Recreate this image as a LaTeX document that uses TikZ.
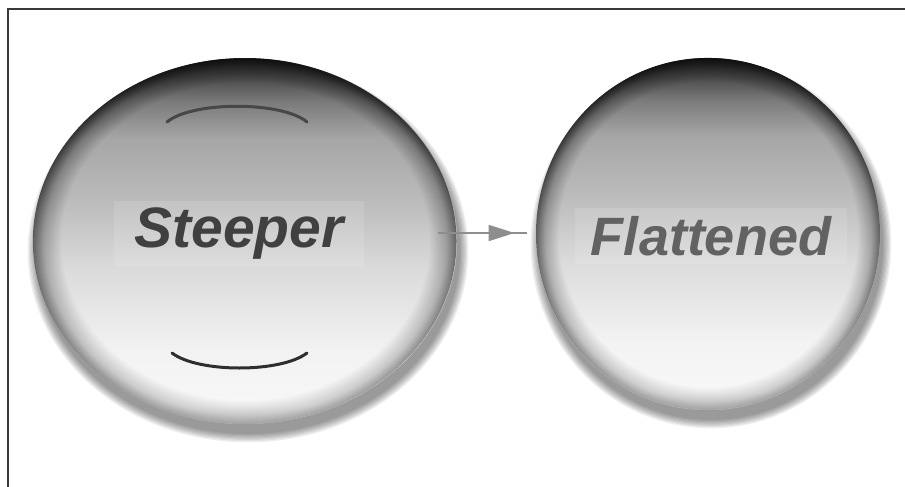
\documentclass[tikz,border=0pt]{standalone}
\usepackage{fontspec}
\setmainfont{Liberation Sans}
\usetikzlibrary{shapes.geometric,arrows.meta,decorations.markings,fadings}

\definecolor{framecol}{HTML}{3A3A3A}
\definecolor{arcdark}{HTML}{2E2E2E}
\definecolor{arrowcol}{HTML}{8E8E8E}
\definecolor{txtA}{HTML}{404040}
\definecolor{txtB}{HTML}{626262}

\pgfdeclareradialshading{rimshading}{\pgfpoint{0bp}{0bp}}{rgb(0bp)=(0,0,0); rgb(21.6bp)=(0,0,0); rgb(23.6bp)=(0.4,0.4,0.4); rgb(24.6bp)=(0.8,0.8,0.8); rgb(25bp)=(0.95,0.95,0.95); rgb(50bp)=(0.95,0.95,0.95)}
\pgfdeclarefading{rimfade}{\pgfuseshading{rimshading}}

\pgfdeclareverticalshading{bubbleshade}{100bp}{rgb(0bp)=(0.86,0.86,0.86); rgb(25bp)=(0.86,0.86,0.86); rgb(27.5bp)=(0.97,0.97,0.97); rgb(35bp)=(0.95,0.95,0.95); rgb(46bp)=(0.86,0.86,0.86); rgb(55bp)=(0.74,0.74,0.74); rgb(64bp)=(0.65,0.65,0.65); rgb(69bp)=(0.48,0.48,0.48); rgb(72.5bp)=(0.28,0.28,0.28); rgb(75bp)=(0.15,0.15,0.15); rgb(100bp)=(0.15,0.15,0.15)}

\tikzset{
  bubble/.style={ellipse, inner sep=0pt},
  frameline/.style={draw=framecol, line width=2pt},
  lens/.style={draw=arcdark, line width=3pt, line cap=round},
  labelA/.style={font=\fontsize{57}{60}\selectfont\bfseries\itshape, text=txtA,
    fill=white, fill opacity=0.12, text opacity=1, inner xsep=20pt, inner ysep=7pt},
  labelB/.style={font=\fontsize{54}{58}\selectfont\bfseries\itshape, text=txtB,
    fill=white, fill opacity=0.12, text opacity=1, inner xsep=16pt, inner ysep=8pt},
  conn/.style={draw=arrowcol, line width=2pt,
    postaction={decorate, decoration={markings,
      mark=at position 0.86 with {\arrow[arrowcol]{Triangle[length=26pt,width=16pt]}}}}},
}

\newcommand{\bubbledraw}[3]{%
  % #1 node name, #2 x radius, #3 y radius
  \foreach \k in {0,...,7}{
    \fill[black, opacity=0.06] ([xshift=3pt,yshift=-10pt]#1.center)
      ellipse [x radius=#2+\k*1.2pt, y radius=#3+\k*1.2pt];
  }
  \shade[shading=bubbleshade] (#1.center) ellipse [x radius=#2, y radius=#3];
  \shade[top color=black!95, bottom color=black!38, path fading=rimfade]
    (#1.center) ellipse [x radius=#2, y radius=#3];
}

\begin{document}
\begin{tikzpicture}[x=1pt,y=-1pt]
  \useasboundingbox (0,0) rectangle (905,487);
  \fill[white] (0,0) rectangle (905,487);

  % frame
  \coordinate (ftr) at (905,9.5);
  \coordinate (ftl) at (7.5,9.5);
  \coordinate (fbl) at (7.5,487);
  \draw[frameline] (ftr) -- (ftl) -- (fbl);

  % bubbles
  \node[bubble, minimum width=424pt, minimum height=366pt] (L) at (245,241) {};
  \node[bubble, minimum width=344pt, minimum height=352pt] (R) at (708,234) {};

  \bubbledraw{L}{212pt}{183pt}
  \bubbledraw{R}{172pt}{176pt}

  % lens curvature marks
  \coordinate (ta) at (167,122);
  \coordinate (tb) at (307,122);
  \coordinate (ba) at (172,353);
  \coordinate (bb) at (307,353);
  \draw[lens, draw=black!72] (ta) .. controls (192,101) and (282,101) .. (tb);
  \draw[lens] (ba) .. controls (198,373) and (281,373) .. (bb);

  % labels
  \node[labelA] (st) at (239,234) {Steeper};
  \node[labelB] (fl) at (711,236) {Flattened};

  % connector
  \coordinate (a1) at (438,233);
  \coordinate (a2) at (527,233);
  \draw[conn] (a1) -- (a2);
\end{tikzpicture}
\end{document}
